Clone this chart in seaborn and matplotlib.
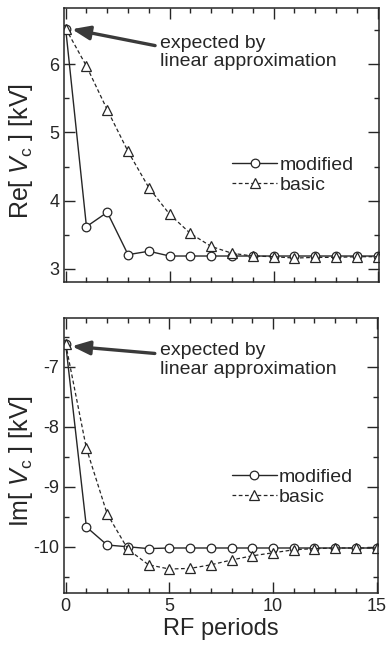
import numpy as np
import pandas as pd
import matplotlib
matplotlib.use("Agg")
import matplotlib.pyplot as plt
import seaborn as sns

# ---------------- data ----------------
periods = list(range(16))
re_modified = [6.52, 3.62, 3.83, 3.21, 3.26, 3.19, 3.19, 3.19, 3.19, 3.19, 3.19, 3.19, 3.19, 3.19, 3.19, 3.19]
re_basic = [6.52, 5.97, 5.33, 4.72, 4.19, 3.80, 3.52, 3.33, 3.23, 3.19, 3.18, 3.16, 3.17, 3.17, 3.18, 3.18]
im_modified = [-6.62, -9.67, -9.97, -10.00, -10.03, -10.02, -10.02, -10.02, -10.02, -10.02, -10.02, -10.02, -10.02, -10.02, -10.02, -10.02]
im_basic = [-6.62, -8.36, -9.45, -10.04, -10.30, -10.37, -10.36, -10.30, -10.22, -10.15, -10.10, -10.05, -10.03, -10.02, -10.02, -10.02]
series_labels = ["modified", "basic"]
annotation_text = "expected by\nlinear approximation"
re_ylabel = r"Re[ $\mathit{V}_{\mathrm{c}}$ ] [kV]"
im_ylabel = r"Im[ $\mathit{V}_{\mathrm{c}}$ ] [kV]"
xlabel = "RF periods"
re_ticks = [3, 4, 5, 6]
im_ticks = [-10, -9, -8, -7]
x_ticks = [0, 5, 10, 15]

# ---------------- style ----------------
sns.set_theme(style="ticks")
plt.rcParams["font.family"] = ["Liberation Sans", "DejaVu Sans"]
plt.rcParams["mathtext.fontset"] = "custom"
plt.rcParams["mathtext.rm"] = "Liberation Sans"
plt.rcParams["mathtext.it"] = "Liberation Sans:italic"
plt.rcParams["axes.unicode_minus"] = False
plt.rcParams["axes.linewidth"] = 1.1
INK = "#262626"

fig = plt.figure(figsize=(3.89, 6.46), dpi=100)
ax1 = fig.add_axes([0.1645, 0.5635, 0.8095, 0.4241])
ax2 = fig.add_axes([0.1645, 0.0820, 0.8070, 0.4257])

def draw(ax, mod, bas, ylim, yticks, ylabel, arrow_tail, arrow_tip, text_y, leg_y):
    df_m = pd.DataFrame({"period": periods, "value": mod})
    df_b = pd.DataFrame({"period": periods, "value": bas})
    sns.lineplot(data=df_m, x="period", y="value", ax=ax, color=INK, lw=1.0,
                 marker="o", markersize=6.2, markerfacecolor="white",
                 markeredgecolor=INK, markeredgewidth=0.9, label=series_labels[0])
    sns.lineplot(data=df_b, x="period", y="value", ax=ax, color=INK, lw=0.9,
                 linestyle=(0, (3, 2)), marker="^", markersize=6.5,
                 markerfacecolor="white", markeredgecolor=INK,
                 markeredgewidth=0.9, label=series_labels[1])
    ax.set_xlim(-0.08, 15.06)
    ax.set_xticks(x_ticks)
    ax.set_xticks(periods, minor=True)
    ax.set_yticks(yticks)
    ax.set_yticks(np.arange(yticks[0] - 0.5, yticks[-1] + 1.0, 0.5), minor=True)
    ax.set_ylim(*ylim)
    ax.tick_params(which="both", direction="in", top=True, right=True,
                   color=INK, labelsize=13, labelcolor=INK, width=1.0)
    ax.tick_params(which="major", length=8)
    ax.tick_params(which="minor", length=3.5)
    ax.set_ylabel(ylabel, fontsize=18, color=INK)
    ax.yaxis.set_label_coords(-0.092, 0.48)
    for s in ax.spines.values():
        s.set_color(INK)
    ax.annotate("", xy=arrow_tip, xytext=arrow_tail,
                arrowprops=dict(arrowstyle="-|>,head_length=0.9,head_width=0.35",
                                color="#3a3a3a", lw=2.4, shrinkA=0, shrinkB=0))
    ax.text(0.305, text_y, annotation_text, transform=ax.transAxes,
            ha="left", va="top", fontsize=14, color=INK, linespacing=1.1)
    leg = ax.legend(loc="upper left", bbox_to_anchor=(0.535, leg_y), frameon=False,
                    fontsize=14, handlelength=2.3, handletextpad=0.12,
                    labelspacing=0.13, borderpad=0, borderaxespad=0)
    for t in leg.get_texts():
        t.set_color(INK)

draw(ax1, re_modified, re_basic, (2.81, 6.82), re_ticks, re_ylabel,
     (4.3, 6.27), (0.3, 6.51), 0.902, 0.458)
draw(ax2, im_modified, im_basic, (-10.77, -6.19), im_ticks, im_ylabel,
     (4.3, -6.78), (0.3, -6.66), 0.912, 0.455)

ax1.set_xlabel("")
ax1.tick_params(labelbottom=False)
ax2.set_xlabel(xlabel, fontsize=17, color=INK, labelpad=2)

fig.savefig("out.png", dpi=100)
